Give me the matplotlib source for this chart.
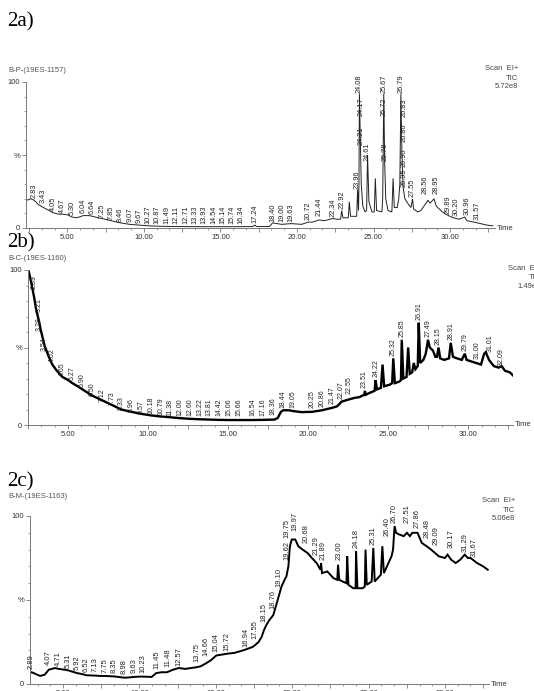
import matplotlib.pyplot as plt
from matplotlib.ticker import MultipleLocator, FuncFormatter

W, H = 534, 691

# ---- 2a  B-P-(19ES-1157) ----
a_t = [2.35, 2.6, 2.83, 3.1, 3.43, 3.8, 4.05, 4.4, 4.67, 5.0, 5.3, 5.6, 6.04, 6.4, 6.64, 7.0,
       7.25, 7.85, 8.46, 9.07, 9.67, 10.27, 11.0, 12.0, 14.0, 16.0, 17.1, 17.24, 17.35, 18.2,
       18.4, 18.7, 19.0, 19.63, 20.3, 20.72, 21.0, 21.44, 21.8, 22.34, 22.6, 22.85, 22.92, 23.0,
       23.35, 23.42, 23.5, 23.9, 23.96, 24.02, 24.05, 24.08, 24.14, 24.2, 24.3, 24.45, 24.55,
       24.61, 24.7, 24.9, 25.05, 25.12, 25.2, 25.55, 25.6, 25.67, 25.73, 25.8, 25.95, 26.2,
       26.28, 26.36, 26.55, 26.65, 26.72, 26.79, 26.86, 26.93, 27.05, 27.3, 27.45, 27.55, 27.62,
       27.9, 28.1, 28.3, 28.56, 28.7, 28.95, 29.1, 29.5, 29.89, 30.2, 30.6, 30.96, 31.1, 31.57,
       32.0, 32.4, 32.8]
a_y = [19, 20, 19, 16, 14, 12, 10.5, 9.5, 9.5, 9, 7.5, 7, 8.5, 8.5, 8, 7,
       6.5, 5, 3.5, 2.5, 2, 1.5, 1.2, 1.0, 0.9, 0.9, 1, 2, 1, 1,
       3.5, 3, 2.5, 3, 2.5, 4, 4, 5.5, 5, 6.5, 6, 6, 12, 7,
       7, 18, 8, 8, 26, 12, 30, 92, 60, 30, 15, 11, 12,
       50, 18, 11, 11, 34, 12, 11, 20, 92, 45, 20, 12, 11,
       34, 14, 14, 20, 30, 92, 50, 28, 20, 16, 14, 20, 13,
       11, 12, 15, 19, 17, 20, 15, 11, 8.5, 7, 6, 7.5, 5, 4,
       3, 2, 1.5]
a_labels = ['2.83', '3.43', '4.05', '4.67', '5.30', '6.04', '6.64', '7.25', '7.85', '8.46',
            '9.07', '9.67', '10.27', '10.87', '11.49', '12.11', '12.71', '13.33', '13.93',
            '14.54', '15.14', '15.74', '16.34', '17.24', '18.40', '19.00', '19.63', '20.72',
            '21.44', '22.34', '22.92', '23.96', '24.08', '24.17', '24.21', '24.61', '25.67',
            '25.72', '25.78', '26.79', '26.83', '26.86', '26.90', '26.95', '27.55', '28.56',
            '28.95', '29.89', '30.20', '30.96', '31.57']
a_lab_y = [20, 16, 11, 9.5, 8, 9.5, 8.5, 6, 4.5, 3.5,
           3, 2.5, 2.2, 2, 2, 2, 2, 2, 2,
           2, 2, 2, 2, 2.5, 3.5, 3, 3, 4.5,
           7.5, 7, 12.5, 26, 92, 76, 56, 45, 92,
           76, 45, 92, 75, 58, 41, 27, 20.5, 22.5,
           22.5, 9, 7.5, 8, 5]
# where a label sits away from its own retention time in the picture
a_lab_at = {'26.83': 27.0, '26.86': 27.0, '26.90': 27.0, '26.95': 27.0,
            '28.56': 28.4, '28.95': 29.1, '29.89': 29.85, '30.20': 30.4,
            '30.96': 31.15, '31.57': 31.8}

# ---- 2b  B-C-(19ES-1160) ----
b_t = [2.55, 2.7, 2.89, 3.0, 3.21, 3.28, 3.54, 3.8, 4.02, 4.3, 4.65, 5.0, 5.27, 5.6, 5.9, 6.5,
       7.12, 7.73, 8.33, 8.96, 9.57, 10.18, 10.79, 11.38, 12.0, 12.6, 13.22, 13.81, 14.42,
       15.06, 15.66, 16.54, 17.16, 17.9, 18.1, 18.3, 18.44, 18.8, 19.05, 19.6, 20.25, 20.86,
       21.47, 21.8, 22.0, 22.07, 22.55, 22.9, 23.2, 23.51, 23.55, 23.6, 23.9, 24.15, 24.22,
       24.3, 24.55, 24.65, 24.75, 25.1, 25.25, 25.32, 25.42, 25.7, 25.8, 25.85, 25.95, 26.15,
       26.25, 26.35, 26.5, 26.6, 26.7, 26.85, 26.91, 27.0, 27.2, 27.35, 27.49, 27.6, 27.8,
       27.95, 28.05, 28.15, 28.25, 28.5, 28.8, 28.91, 29.05, 29.3, 29.6, 29.79, 29.9, 30.2,
       30.5, 30.8, 31.0, 31.1, 31.3, 31.6, 31.9, 32.09, 32.3, 32.6, 32.8]
b_y = [99, 92, 82, 75, 66, 62, 51, 44, 39, 35, 31, 29, 27, 25, 23, 19,
       16, 13, 10, 8.5, 7.2, 6.2, 5.5, 5, 4.4, 4, 3.7, 3.5, 3.3,
       3.2, 3.2, 3.2, 3.3, 3.5, 4.5, 8.5, 9.5, 9.5, 9, 8.3, 8.5, 9.5,
       11, 12, 14, 15, 16.5, 17.5, 18, 19.5, 22, 19.5, 21, 22, 29,
       23, 24, 39, 25, 26, 27, 43, 27, 28, 29, 55, 30, 31,
       50, 33, 34, 40, 36, 38, 66, 40, 42, 46, 55, 50, 48,
       44, 44, 50, 43, 42, 43, 53, 44, 43, 42, 46, 42, 41,
       40, 39, 46, 47, 42, 38, 37, 38, 35, 34, 32]
b_labels = ['2.89', '3.28', '3.21', '3.54', '4.02', '4.65', '5.27', '5.90', '6.50', '7.12',
            '7.73', '8.33', '8.96', '9.57', '10.18', '10.79', '11.38', '12.00', '12.60',
            '13.22', '13.81', '14.42', '15.06', '15.66', '16.54', '17.16', '18.36', '18.44',
            '19.05', '20.25', '20.86', '21.47', '22.07', '22.55', '23.51', '24.22', '25.32',
            '25.85', '26.91', '27.49', '28.15', '28.91', '29.79', '31.00', '31.01', '32.09']
b_lab_y = [87, 60, 72, 47, 40, 31, 28, 24, 18, 14,
           12, 9, 7.5, 6.5, 6, 5.5, 5, 5, 5,
           5, 5, 5, 5, 5, 5, 5, 5.5, 10,
           10, 10, 11, 13, 16, 19, 23, 30, 44,
           56, 67, 56, 51, 54, 47, 42, 46, 37]
b_lab_at = {'3.28': 3.22, '3.21': 3.22, '18.36': 17.8, '31.00': 30.55, '31.01': 31.35}

# ---- 2c  B-M-(19ES-1163) ----
c_t = [2.84, 2.95, 3.2, 3.5, 3.8, 4.07, 4.48, 4.71, 5.26, 5.92, 6.3, 6.52, 7.13, 7.4, 7.75,
       8.35, 8.98, 9.2, 9.63, 10.0, 10.23, 10.8, 11.1, 11.45, 11.8, 12.2, 12.57, 13.0, 13.75,
       14.0, 14.3, 14.66, 15.04, 15.4, 15.72, 16.2, 16.6, 16.94, 17.4, 17.55, 17.8, 18.0,
       18.15, 18.3, 18.5, 18.76, 19.05, 19.3, 19.5, 19.62, 19.75, 19.85, 19.97, 20.2, 20.4,
       20.68, 21.0, 21.29, 21.6, 21.85, 21.89, 21.95, 22.3, 22.7, 22.95, 23.0, 23.08, 23.3,
       23.55, 23.6, 23.68, 24.0, 24.15, 24.18, 24.27, 24.6, 24.75, 24.8, 24.88, 25.2, 25.31,
       25.4, 25.8, 25.9, 26.0, 26.3, 26.5, 26.6, 26.7, 26.8, 27.0, 27.3, 27.51, 27.7, 27.86,
       28.2, 28.48, 28.8, 29.09, 29.6, 30.0, 30.17, 30.4, 30.7, 31.0, 31.29, 31.5, 31.67,
       32.1, 32.5, 32.8]
c_y = [6.5, 7, 6, 4.8, 5.5, 8.5, 9.5, 9, 8.3, 6.5, 5.8, 5.2, 5, 4.8, 4.8,
       4.5, 3.8, 3.8, 4.2, 4.4, 4.4, 4.2, 6.5, 7, 7, 8.5, 9.5, 9, 10,
       10.5, 12, 14, 17, 17.5, 18, 18.5, 19.5, 20.5, 22, 23, 25, 28,
       32, 35, 38, 41, 50, 58, 62, 64, 70, 82, 86, 86, 82,
       80, 78, 75, 72, 68, 72, 66, 67, 63, 62, 71, 62, 61,
       60, 76, 59, 57, 57, 79, 57, 57, 58, 80, 59, 61, 81,
       61, 65, 82, 66, 72, 76, 80, 94, 90, 89, 88, 90, 88, 90,
       90, 84, 82, 80, 76, 75, 77, 74, 72, 74, 77, 75, 75,
       72, 70, 68]
c_labels = ['2.89', '4.07', '4.71', '5.31', '5.92', '6.52', '7.13', '7.75', '8.35', '8.98',
            '9.63', '10.23', '11.45', '11.48', '12.57', '13.75', '14.66', '15.04', '15.72',
            '16.94', '17.55', '18.15', '18.76', '19.10', '19.62', '19.75', '19.97', '20.68',
            '21.29', '21.89', '23.00', '24.18', '25.31', '26.40', '26.70', '27.51', '27.86',
            '28.48', '29.09', '30.17', '31.29', '31.67']
c_lab_y = [8, 10.5, 10, 9, 7.5, 6.5, 6.5, 6, 5.5, 5,
           5.5, 5.5, 8, 9.5, 10, 12.5, 16, 18.5, 19,
           21, 26, 36, 44, 57, 73, 86, 90, 83,
           76, 73, 73, 80, 82, 87, 95, 95, 92,
           86, 82, 80, 78, 75]
c_lab_at = {'11.45': 11.15, '11.48': 11.85, '14.66': 14.35, '19.62': 19.65, '19.75': 19.65,
            '19.97': 20.15, '20.68': 20.9, '21.29': 21.55, '21.89': 22.05, '23.00': 23.05,
            '26.40': 26.2, '27.51': 27.55, '27.86': 28.2, '28.48': 28.8, '29.09': 29.4,
            '30.17': 30.4, '31.29': 31.3, '31.67': 31.9}

panels = [
    dict(tag='2a)', tag_y=12, name='B-P-(19ES-1157)', name_y=70, box=(26, 495, 82, 228),
         xlim=(2.29, 32.94), t=a_t, y=a_y, labels=a_labels, lab_y=a_lab_y, lab_at=a_lab_at,
         info=('Scan  EI+', 'TIC', '5.72e8'), info_x=518, info_y=(69, 78, 87),
         lw=0.7, color='#222222', fs=5.3),
    dict(tag='2b)', tag_y=233, name='B-C-(19ES-1160)', name_y=259, box=(28, 513, 270, 425),
         xlim=(2.5, 32.8), t=b_t, y=b_y, labels=b_labels, lab_y=b_lab_y, lab_at=b_lab_at,
         info=('Scan  EI+', 'TIC', '1.49e8'), info_x=541, info_y=(269, 277, 286),
         lw=1.7, color='black', fs=5.0),
    dict(tag='2c)', tag_y=472, name='B-M-(19ES-1163)', name_y=497, box=(30, 489, 516, 684),
         xlim=(2.84, 32.88), t=c_t, y=c_y, labels=c_labels, lab_y=c_lab_y, lab_at=c_lab_at,
         info=('Scan  EI+', 'TIC', '5.06e8'), info_x=515, info_y=(500, 510, 519),
         lw=1.4, color='black', fs=5.4),
]

sans = 'Liberation Sans'
fig = plt.figure(figsize=(W / 100, H / 100), dpi=100)

for p in panels:
    x0, x1, ytop, ybot = p['box']
    ax = fig.add_axes([x0 / W, 1 - ybot / H, (x1 - x0) / W, (ybot - ytop) / H])
    ax.plot(p['t'], p['y'], color=p['color'], lw=p['lw'], solid_joinstyle='miter')
    ax.set_xlim(*p['xlim'])
    ax.set_ylim(0, 100)
    for s in ['top', 'right']:
        ax.spines[s].set_visible(False)
    for s in ['left', 'bottom']:
        ax.spines[s].set_color('#777777')
        ax.spines[s].set_linewidth(0.7)
    ax.set_yticks([0, 50, 100])
    ax.set_yticklabels(['0', '%', '100'])
    ax.yaxis.set_minor_locator(MultipleLocator(10))
    ax.xaxis.set_major_locator(MultipleLocator(2.5))
    ax.xaxis.set_minor_locator(MultipleLocator(5 / 6))
    ax.xaxis.set_major_formatter(FuncFormatter(
        lambda v, pos: '%.2f' % v if abs(v / 5 - round(v / 5)) < 1e-6 else ''))
    ax.tick_params(which='major', length=2.8, width=0.6, color='#777777', pad=1.5,
                   labelsize=5.5, labelcolor='#333333')
    ax.tick_params(which='minor', length=1.6, width=0.5, color='#777777')
    for lab in ax.get_xticklabels() + ax.get_yticklabels():
        lab.set_fontfamily(sans)
    ax.text(1.004, 0, 'Time', transform=ax.transAxes, ha='left', va='center',
            fontsize=5.5, family=sans, color='#333333')
    for s, ly in zip(p['labels'], p['lab_y']):
        lx = p['lab_at'].get(s, float(s))
        ax.text(lx, ly + 0.8, s, rotation=90, ha='center', va='bottom',
                fontsize=p['fs'], family=sans, color='#222222', clip_on=False)
    fig.text(7 / W, 1 - p['tag_y'] / H, p['tag'], ha='left', va='top',
             fontsize=15, family='Liberation Serif')
    fig.text(8 / W, 1 - p['name_y'] / H, p['name'], ha='left', va='center',
             fontsize=5.5, family=sans, color='#555555')
    for s, iy in zip(p['info'], p['info_y']):
        fig.text(p['info_x'] / W, 1 - iy / H, s, ha='right', va='center',
                 fontsize=5.5, family=sans, color='#444444')

fig.savefig('out.png', dpi=100)
